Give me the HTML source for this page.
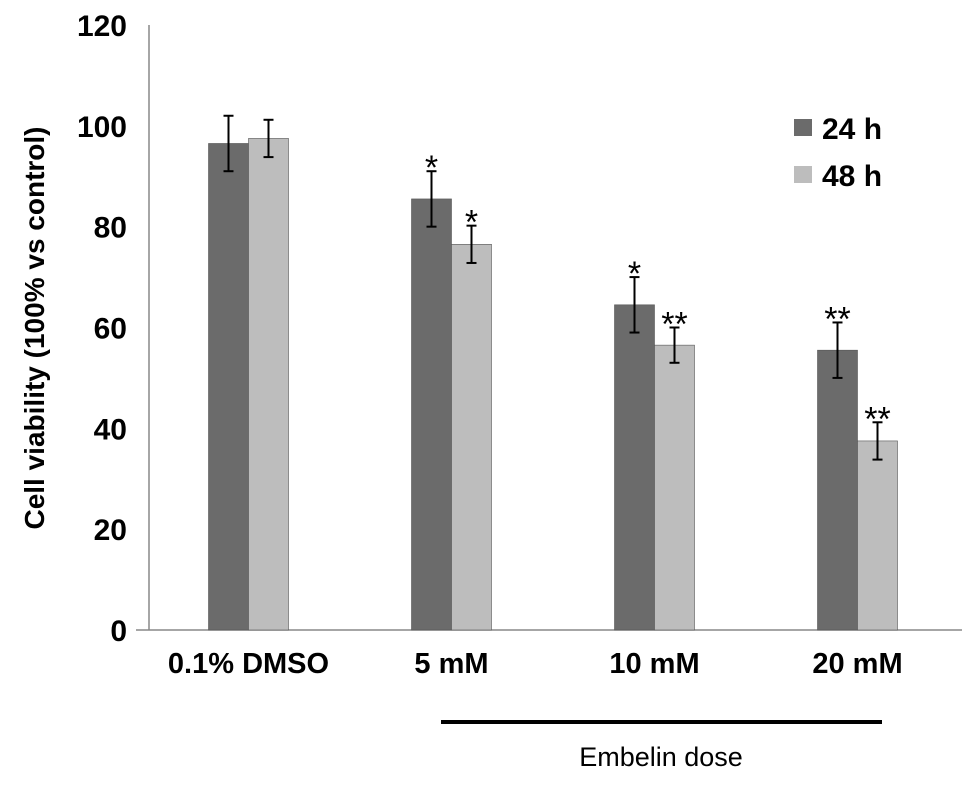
<!DOCTYPE html>
<html><head><meta charset="utf-8"><style>
html,body{margin:0;padding:0;background:#fff;}
svg{display:block;font-family:"Liberation Sans",Arial,sans-serif;}
</style></head><body>
<svg id="chart" width="969" height="809" viewBox="0 0 969 809">
<g id="axes"></g>
<g id="bars"></g>
<g id="legend">
  <rect x="794" y="119" width="18" height="17" fill="#6b6b6b"/>
  <text x="822" y="139" font-size="30" font-weight="bold">24 h</text>
  <rect x="794" y="166" width="18" height="17" fill="#bdbdbd"/>
  <text x="822" y="186" font-size="30" font-weight="bold">48 h</text>
</g>
<text transform="translate(44,328) rotate(-90)" text-anchor="middle" font-size="28" font-weight="bold">Cell viability (100% vs control)</text>
<line x1="441" y1="722" x2="882" y2="722" stroke="#000" stroke-width="4"/>
<text x="661" y="766" text-anchor="middle" font-size="27">Embelin dose</text>
</svg>
<script>
const categories = ["0.1% DMSO","5 mM","10 mM","20 mM"];
const values24 = [96.5, 85.5, 64.5, 55.5];
const values48 = [97.5, 76.5, 56.5, 37.5];
const err24 = [5.5, 5.5, 5.5, 5.5];
const err48 = [3.7, 3.7, 3.5, 3.7];
const sig24 = ["", "*", "*", "**"];
const sig48 = ["", "*", "**", "**"];
const yTicks = [0,20,40,60,80,100,120];

const NS="http://www.w3.org/2000/svg";
const x0=147, bandW=203, y0=630, yTop=25, yMax=120, barW=40;
const y = v => y0 - v/yMax*(y0-yTop);
const cx = i => x0 + (i+0.5)*bandW;
function mk(tag, attrs, parent){const e=document.createElementNS(NS,tag);for(const k in attrs)e.setAttribute(k,attrs[k]);parent.appendChild(e);return e;}
const axes=document.getElementById('axes'), bars=document.getElementById('bars');

let e=mk('line',{x1:149,y1:y(yMax),x2:149,y2:y0,stroke:'#888','stroke-width':1.5},axes);


e=mk('line',{x1:136,y1:y0,x2:962,y2:y0,stroke:'#888','stroke-width':1.5},axes);


yTicks.forEach(t=>{
  const tx=mk('text',{x:127,y:y(t)+11,'text-anchor':'end','font-size':30,'font-weight':'bold'},axes);
  tx.textContent=t;
  
  
});
categories.forEach((c,i)=>{
  const tx=mk('text',{x:cx(i),y:673,'text-anchor':'middle','font-size':29,'font-weight':'bold'},axes);
  tx.textContent=c;
  
  
});
function series(vals, errs, sigs, color, offset, name){
  vals.forEach((v,i)=>{
    const bx=cx(i)+offset;
    const r=mk('rect',{x:bx,y:y(v),width:barW,height:y0-y(v),fill:color,stroke:'#555','stroke-width':0.6},bars);
    
    
    const m=bx+barW/2, hi=y(v+errs[i]), lo=y(v-errs[i]);
    const g=mk('g',{stroke:'#000','stroke-width':2},bars);
    
    
    mk('line',{x1:m,y1:hi,x2:m,y2:lo},g);
    mk('line',{x1:m-5,y1:hi,x2:m+5,y2:hi},g);
    mk('line',{x1:m-5,y1:lo,x2:m+5,y2:lo},g);
    if(sigs[i]){
      const s=mk('text',{x:m,y:hi+8,'text-anchor':'middle','font-size':34},bars);
      s.textContent=sigs[i];
      
      
    }
  });
}
series(values24, err24, sig24, '#6b6b6b', -barW, '24h');
series(values48, err48, sig48, '#bdbdbd', 0, '48h');
</script>
</body></html>
